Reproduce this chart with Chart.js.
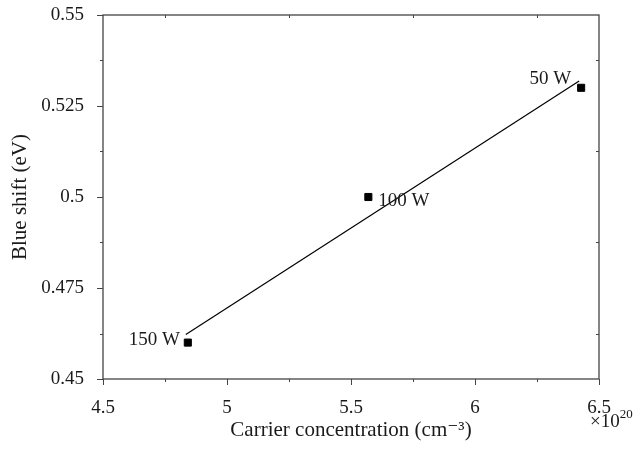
<!DOCTYPE html>
<html>
<head>
<meta charset="utf-8">
<script src="https://cdn.jsdelivr.net/npm/chart.js@4/dist/chart.umd.min.js"></script>
<style>
  html, body { margin: 0; padding: 0; background: #fff; }
  #wrap { width: 640px; height: 453px; }
</style>
</head>
<body>
<div id="wrap"><canvas id="c" width="640" height="453"></canvas></div>
<script>
// ---- data ----
const powerLabels = ['150 W', '100 W', '50 W'];
const carrierConc = [4.842, 5.57, 6.428];     // ×10^20 cm^-3
const blueShift   = [0.460, 0.500, 0.530];    // eV
const fitX = [4.834, 6.42];                   // fitted line end points
const fitY = [0.4622, 0.5319];
const xTickLabels = ['4.5', '5', '5.5', '6', '6.5'];
const yTickLabels = ['0.45', '0.475', '0.5', '0.525', '0.55'];

// label placement (style, not data)
const labelStyle = [
  { align: 'right', dx: -8, dy: -3 },
  { align: 'left',  dx: 10, dy: 4 },
  { align: 'right', dx: -10, dy: -9 }
];

const FONT = '"Liberation Serif", "DejaVu Serif", serif';
const FS = 19;
const TFS = 21;
const TXT = '#1a1a1a';
const AX = '#444';

const framePlugin = {
  id: 'frame',
  afterDraw(chart) {
    const { ctx, chartArea: a, scales } = chart;
    const xs = scales.x, ys = scales.y;
    ctx.save();
    ctx.strokeStyle = AX;
    ctx.lineWidth = 1.3;
    ctx.strokeRect(a.left, a.top, a.right - a.left, a.bottom - a.top);
    ctx.lineWidth = 1;
    xs.ticks.forEach((t, i) => {
      const px = Math.round(xs.getPixelForValue(t.value)) + 0.5;
      const len = i % 2 === 0 ? 6 : 3;
      ctx.beginPath();
      ctx.moveTo(px, a.bottom); ctx.lineTo(px, a.bottom + len);
      ctx.moveTo(px, a.top); ctx.lineTo(px, a.top + (i % 2 === 0 ? 0 : 3));
      ctx.stroke();
    });
    ys.ticks.forEach((t, i) => {
      const py = Math.round(ys.getPixelForValue(t.value)) + 0.5;
      const len = i % 2 === 0 ? 6 : 3;
      ctx.beginPath();
      ctx.moveTo(a.left, py); ctx.lineTo(a.left - len, py);
      ctx.moveTo(a.right, py); ctx.lineTo(a.right - (i % 2 === 0 ? 0 : 3), py);
      ctx.stroke();
    });
    ctx.fillStyle = TXT;
    ctx.font = FS + 'px ' + FONT;
    ctx.textBaseline = 'middle';
    powerLabels.forEach((lab, i) => {
      const px = xs.getPixelForValue(carrierConc[i]);
      const py = ys.getPixelForValue(blueShift[i]);
      const s = labelStyle[i];
      ctx.textAlign = s.align;
      ctx.fillText(lab, px + s.dx, py + s.dy);
    });
    ctx.textAlign = 'left';
    ctx.textBaseline = 'alphabetic';
    ctx.font = FS + 'px ' + FONT;
    const bx = a.right - 9, by = a.bottom + 48;
    ctx.fillText('×10', bx, by);
    const w = ctx.measureText('×10').width;
    ctx.font = '13px ' + FONT;
    ctx.fillText('20', bx + w, by - 9);
    ctx.restore();
  }
};

new Chart(document.getElementById('c'), {
  type: 'scatter',
  data: {
    datasets: [
      {
        type: 'line',
        data: fitX.map((x, i) => ({ x, y: fitY[i] })),
        borderColor: '#000',
        borderWidth: 1.2,
        pointRadius: 0,
        fill: false
      },
      {
        data: carrierConc.map((x, i) => ({ x, y: blueShift[i] })),
        pointStyle: 'rect',
        pointRadius: 5,
        pointBorderWidth: 1,
        backgroundColor: '#000',
        borderColor: '#000'
      }
    ]
  },
  options: {
    responsive: false,
    animation: false,
    layout: { padding: { left: 0, top: 15, right: 41, bottom: 0 } },
    plugins: { legend: { display: false }, tooltip: { enabled: false } },
    scales: {
      x: {
        type: 'linear',
        min: 4.5, max: 6.5,
        grid: { display: false },
        border: { display: false },
        ticks: {
          stepSize: 0.25,
          padding: 10,
          color: TXT,
          font: { family: FONT, size: FS },
          maxRotation: 0,
          autoSkip: false,
          callback: (v, i) => i % 2 === 0 ? xTickLabels[i / 2] : ''
        },
        title: {
          display: true,
          text: 'Carrier concentration (cm⁻³)',
          color: TXT,
          font: { family: FONT, size: TFS },
          padding: { top: 0, bottom: 10 }
        },
        afterFit: s => { s.height = 74; s.paddingLeft = 0; s.paddingRight = 0; }
      },
      y: {
        type: 'linear',
        min: 0.45, max: 0.55,
        grid: { display: false },
        border: { display: false },
        ticks: {
          stepSize: 0.0125,
          padding: 11,
          color: TXT,
          font: { family: FONT, size: FS },
          autoSkip: false,
          callback: (v, i) => i % 2 === 0 ? yTickLabels[i / 2] : ''
        },
        title: {
          display: true,
          text: 'Blue shift (eV)',
          color: TXT,
          font: { family: FONT, size: TFS },
          padding: { top: 8, bottom: 0 }
        },
        afterFit: s => { s.width = 103; s.paddingTop = 0; s.paddingBottom = 0; }
      }
    }
  },
  plugins: [framePlugin]
});
</script>
</body>
</html>
